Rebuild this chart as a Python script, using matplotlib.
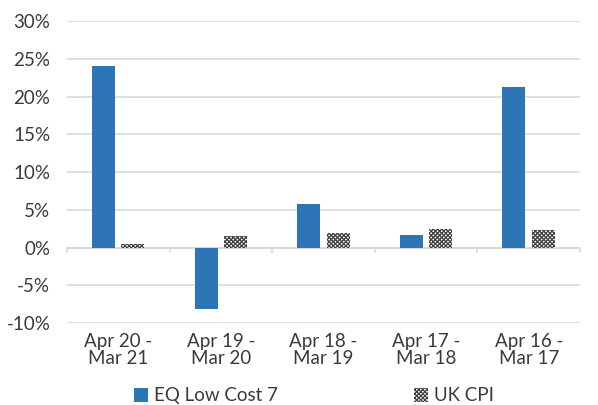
import matplotlib.pyplot as plt
import matplotlib.ticker as mticker
import matplotlib.font_manager as fm
import numpy as np

# periods, most recent first
periods = ['Apr 20 -\nMar 21', 'Apr 19 -\nMar 20', 'Apr 18 -\nMar 19',
           'Apr 17 -\nMar 18', 'Apr 16 -\nMar 17']
eq_low_cost = [24.1, -8.2, 5.7, 1.6, 21.2]
uk_cpi = [0.5, 1.5, 1.9, 2.5, 2.3]
y_ticks = [-10, -5, 0, 5, 10, 15, 20, 25, 30]

names = {f.name for f in fm.fontManager.ttflist}
font = 'Lato' if 'Lato' in names else 'DejaVu Sans'
plt.rcParams['font.family'] = font
plt.rcParams['hatch.color'] = '#404040'
plt.rcParams['hatch.linewidth'] = 0.9

txt = '#3a3a3a'
blue = '#2e75b6'

fig = plt.figure(figsize=(5.98, 4.05), dpi=100)
ax = fig.add_axes([0.112, 0.2025, 0.858, 0.7455])

x = np.arange(len(periods))
w = 0.224
ax.bar(x - 0.144, eq_low_cost, w, color=blue, label='EQ Low Cost 7', zorder=3)
ax.bar(x + 0.143, uk_cpi, w, color='white', edgecolor='#404040', linewidth=0,
       hatch='xxxxxxxx', label='UK CPI', zorder=3)

ax.set_ylim(-10, 30)
ax.set_xlim(-0.5, len(periods) - 0.5)
ax.set_yticks(y_ticks)
ax.yaxis.set_major_formatter(mticker.FuncFormatter(lambda v, p: f'{v:.0f}%'))
ax.grid(axis='y', color='#d9d9d9', linewidth=1.2, zorder=0)
ax.tick_params(axis='y', length=0, labelsize=13.5, labelcolor=txt, pad=12)

for s in ax.spines.values():
    s.set_visible(False)

# zero line with boundary ticks
ax.axhline(0, color='#d9d9d9', linewidth=1.2, zorder=2)
for b in np.arange(-0.5, len(periods), 1.0):
    ax.plot([b, b], [0, -0.55], color='#d9d9d9', linewidth=1.2, zorder=2,
            clip_on=False)

ax.set_xticks(x)
ax.set_xticklabels(periods, linespacing=1.0)
ax.tick_params(axis='x', length=0, labelsize=13.5, labelcolor=txt, pad=7)

leg = fig.legend(loc='lower center', bbox_to_anchor=(0.525, -0.04), ncol=2,
                 frameon=False, fontsize=13.5, handlelength=0.75,
                 handleheight=0.75, handletextpad=0.3, columnspacing=7.3)
for t in leg.get_texts():
    t.set_color(txt)

fig.savefig('out.png', dpi=100)
